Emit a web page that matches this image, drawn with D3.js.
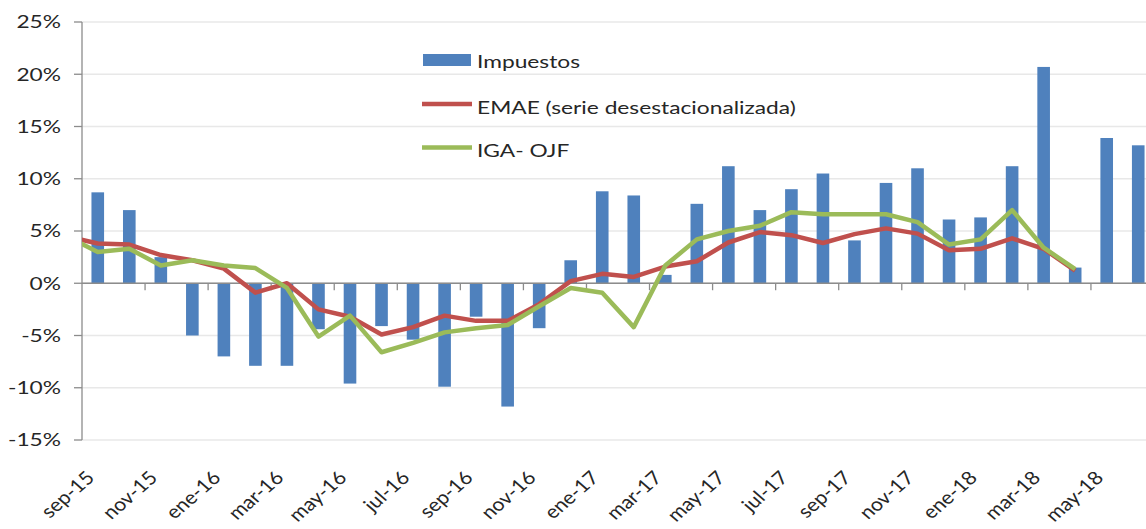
<!DOCTYPE html>
<html>
<head>
<meta charset="utf-8">
<script src="https://cdn.jsdelivr.net/npm/d3@7"></script>
<style>
  body { margin: 0; background: #fff; }
  text { font-family: Lato, "Open Sans", sans-serif; fill: #262626; }
</style>
</head>
<body>
<script>
// Data
const months = ["sep-15","oct-15","nov-15","dic-15","ene-16","feb-16","mar-16","abr-16","may-16","jun-16",
  "jul-16","ago-16","sep-16","oct-16","nov-16","dic-16","ene-17","feb-17","mar-17","abr-17","may-17","jun-17",
  "jul-17","ago-17","sep-17","oct-17","nov-17","dic-17","ene-18","feb-18","mar-18","abr-18","may-18","jun-18"]
const impuestos = [8.7, 7.0, 2.5, -5.0, -7.0, -7.9, -7.9, -4.4, -9.6, -4.1, -5.4, -9.9, -3.2, -11.8, -4.3, 2.2,
  8.8, 8.4, 0.8, 7.6, 11.2, 7.0, 9.0, 10.5, 4.1, 9.6, 11.0, 6.1, 6.3, 11.2, 20.7, 1.5, 13.9, 13.2]
// the two lines start one month earlier (ago-15, cut by the plot edge) and stop at abr-18
const lineMonths = ["ago-15"].concat(months.slice(0, 32))
const emae = [4.5, 3.8, 3.7, 2.7, 2.2, 1.4, -0.9, 0.0, -2.5, -3.2, -4.9, -4.2, -3.1, -3.6, -3.6, -2.0, 0.2,
  0.9, 0.6, 1.6, 2.1, 3.9, 4.9, 4.6, 3.85, 4.7, 5.25, 4.75, 3.15, 3.3, 4.3, 3.3, 1.2]
const iga = [4.5, 3.0, 3.3, 1.7, 2.2, 1.7, 1.45, -0.45, -5.1, -3.1, -6.6, -5.7, -4.7, -4.3, -4.0, -2.2, -0.45,
  -0.9, -4.2, 1.7, 4.2, 5.0, 5.5, 6.8, 6.6, 6.6, 6.6, 5.85, 3.7, 4.2, 7.0, 3.4, 1.35]
const tickLabels = ["sep-15","nov-15","ene-16","mar-16","may-16","jul-16","sep-16","nov-16","ene-17",
  "mar-17","may-17","jul-17","sep-17","nov-17","ene-18","mar-18","may-18"]
const yTicks = [-15, -10, -5, 0, 5, 10, 15, 20, 25]
const seriesNames = ["Impuestos", "EMAE (serie desestacionalizada)", "IGA- OJF"]

// Layout
const w = 1146
const h = 529
const plotLeft = 82, plotRight = 1154, plotTop = 22, plotBottom = 440
const sx = 1.3   // the reference text is stretched sideways
const blue = "#4f81bd", red = "#c0504d", green = "#9bbb59"

const svg = d3.select("body").append("svg")
  .attr("width", w).attr("height", h)

// Scales
const step = (plotRight - plotLeft) / months.length
const x = d3.scaleBand()
  .domain(["ago-15"].concat(months))
  .range([plotLeft - step, plotRight])
  .paddingInner(0.6)
  .paddingOuter(0.3)
const cx = m => x(m) + x.bandwidth() / 2
const y = d3.scaleLinear().domain([-15, 25]).range([plotBottom, plotTop])

svg.append("clipPath").attr("id", "plot")
  .append("rect").attr("x", plotLeft).attr("y", 0).attr("width", plotRight - plotLeft).attr("height", h)

// Gridlines
svg.append("g").selectAll("line")
  .data(yTicks)
  .join("line")
  .attr("x1", plotLeft).attr("x2", w)
  .attr("y1", d => y(d)).attr("y2", d => y(d))
  .attr("stroke", "#e8e8e8").attr("stroke-width", 1.3)

// Bars
svg.append("g").selectAll("rect")
  .data(impuestos)
  .join("rect")
  .attr("x", (d, i) => x(months[i]))
  .attr("y", d => y(Math.max(0, d)))
  .attr("width", x.bandwidth())
  .attr("height", d => Math.abs(y(d) - y(0)))
  .attr("fill", blue)

// Y axis
const yAxis = svg.append("g")
yAxis.append("line")
  .attr("x1", plotLeft).attr("x2", plotLeft).attr("y1", plotTop).attr("y2", plotBottom)
  .attr("stroke", "#8c8c8c").attr("stroke-width", 1.3)
yAxis.selectAll("line.tick")
  .data(yTicks)
  .join("line")
  .attr("class", "tick")
  .attr("x1", plotLeft - 8).attr("x2", plotLeft)
  .attr("y1", d => y(d)).attr("y2", d => y(d))
  .attr("stroke", "#8c8c8c").attr("stroke-width", 1.3)
yAxis.selectAll("text")
  .data(yTicks)
  .join("text")
  .attr("transform", d => "translate(61," + y(d) + ") scale(" + sx + ",1)")
  .attr("text-anchor", "end")
  .attr("dy", "0.36em")
  .style("font-size", "17.5px")
  .text(d => d + "%")

// X axis (at zero)
const xAxis = svg.append("g")
xAxis.append("line")
  .attr("x1", plotLeft).attr("x2", plotRight).attr("y1", y(0)).attr("y2", y(0))
  .attr("stroke", "#8c8c8c").attr("stroke-width", 1.5)
xAxis.selectAll("line.tick")
  .data(months.filter((m, i) => i > 0 && i % 2 === 0))
  .join("line")
  .attr("class", "tick")
  .attr("x1", d => cx(d) - step / 2).attr("x2", d => cx(d) - step / 2)
  .attr("y1", y(0)).attr("y2", y(0) + 7)
  .attr("stroke", "#8c8c8c").attr("stroke-width", 1.3)
xAxis.selectAll("text")
  .data(tickLabels)
  .join("text")
  .attr("transform", d => "translate(" + (cx(d) - 2) + ",479) scale(1.15,1) rotate(-45)")
  .attr("text-anchor", "end")
  .style("font-size", "18.5px")
  .text(d => d)

// Lines
const line = d3.line()
  .x((d, i) => cx(lineMonths[i]))
  .y(d => y(d))

const lines = svg.append("g").attr("clip-path", "url(#plot)")
lines.append("path")
  .attr("d", line(emae))
  .attr("fill", "none").attr("stroke", red)
  .attr("stroke-width", 4.5).attr("stroke-linejoin", "round")
lines.append("path")
  .attr("d", line(iga))
  .attr("fill", "none").attr("stroke", green)
  .attr("stroke-width", 4.5).attr("stroke-linejoin", "round")

// Legend
const legend = svg.append("g")
legend.append("rect")
  .attr("x", 423).attr("y", 54).attr("width", 48).attr("height", 12)
  .attr("fill", blue)
legend.append("line")
  .attr("x1", 422).attr("x2", 472).attr("y1", 104).attr("y2", 104)
  .attr("stroke", red).attr("stroke-width", 4.5)
legend.append("line")
  .attr("x1", 422).attr("x2", 472).attr("y1", 147.5).attr("y2", 147.5)
  .attr("stroke", green).attr("stroke-width", 4.5)
legend.selectAll("text")
  .data(seriesNames)
  .join("text")
  .attr("transform", (d, i) => "translate(477," + [68, 114, 157][i] + ") scale(" + sx + ",1)")
  .style("font-size", "17.5px")
  .text(d => d)
</script>
</body>
</html>
